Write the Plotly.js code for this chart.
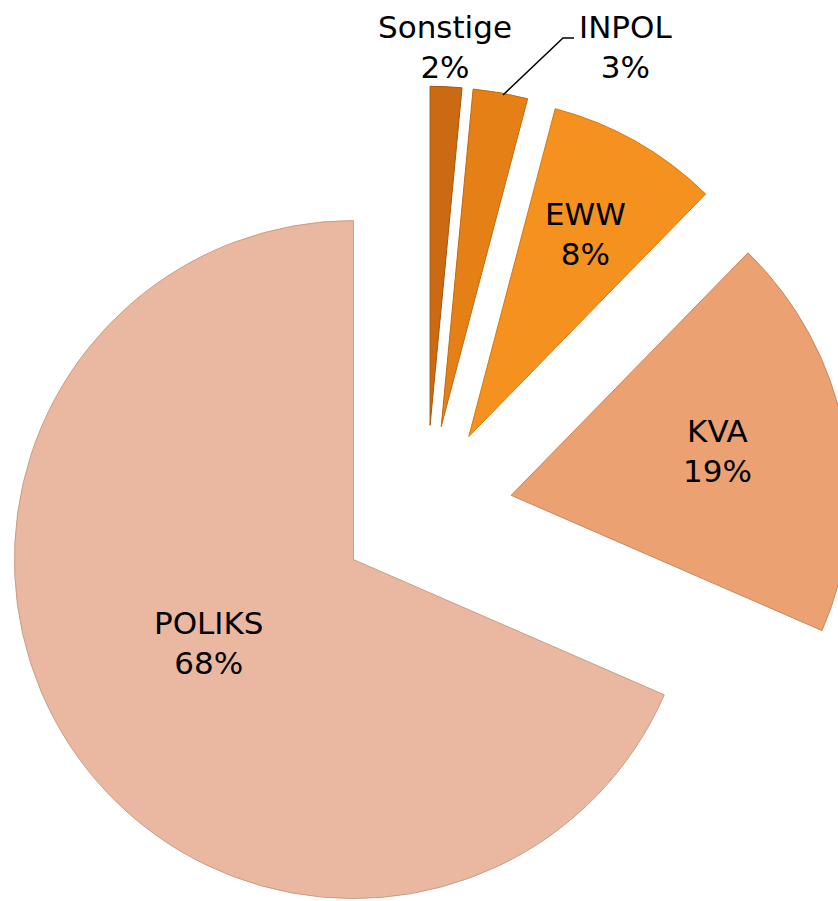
<!DOCTYPE html>
<html>
<head>
<meta charset="utf-8">
<script src="https://cdn.plot.ly/plotly-3.0.1.min.js"></script>
<style>
  html, body { margin: 0; padding: 0; background: #ffffff; overflow: hidden; }
  #wrap { width: 838px; height: 901px; overflow: hidden; position: relative; }
  #chart { width: 960px; height: 1024px; position: absolute; left: -50px; top: 0; }
</style>
</head>
<body>
<div id="wrap"><div id="chart"></div></div>
<script>
// Data (shares; labels show the rounded percentages)
const categories = ["Sonstige", "INPOL", "EWW", "KVA", "POLIKS"];
const shares = [1.5, 2.6, 8.2, 19.2, 68.4];
const sliceColors = ["#cb6a12", "#e58016", "#f5911f", "#eca173", "#eab8a0"];
const edgeColors = ["#a9550c", "#c06a10", "#d47814", "#c98658", "#c99d88"];

// Layout geometry (oversized layout shifted left and clipped to the window)
const OFF = 50;
const W = 960, H = 1024;
const CX = 426, CY = 512, R = 339, PULL = 0.256;
const labelPos = [[445, 47], [625, 47], [585, 234], [717, 451], [209, 643]];

function px(x) { return (x + OFF) / W; }
function py(y) { return 1 - y / H; }

const total = shares.reduce((a, b) => a + b, 0);
const pctText = shares.map(v => Math.round(v / total * 100) + "%");

const half = R * (1 + PULL);
const trace = {
  type: "pie",
  labels: categories,
  values: shares,
  sort: false,
  direction: "clockwise",
  rotation: 0,
  pull: categories.map(() => PULL),
  marker: { colors: sliceColors, line: { width: 1, color: edgeColors } },
  textinfo: "none",
  hoverinfo: "label+percent",
  showlegend: false,
  domain: { x: [px(CX - half), px(CX + half)], y: [py(CY + half), py(CY - half)] }
};

const annotations = categories.map((c, i) => ({
  xref: "paper", yref: "paper",
  x: px(labelPos[i][0]), y: py(labelPos[i][1]),
  xanchor: "center", yanchor: "middle",
  text: c + "<br>" + pctText[i],
  showarrow: false,
  font: { family: "DejaVu Sans, Verdana, sans-serif", size: 31, color: "#000000" }
}));

const layout = {
  width: W, height: H,
  margin: { l: 0, r: 0, t: 0, b: 0 },
  paper_bgcolor: "rgba(0,0,0,0)",
  plot_bgcolor: "rgba(0,0,0,0)",
  annotations: annotations,
  shapes: [{
    type: "path", xref: "paper", yref: "paper",
    path: "M " + px(503) + "," + py(95) + " L " + px(563) + "," + py(38) + " L " + px(574) + "," + py(38),
    line: { color: "#000000", width: 1.5 }
  }]
};

Plotly.newPlot("chart", [trace], layout, { staticPlot: true, displayModeBar: false });
</script>
</body>
</html>
